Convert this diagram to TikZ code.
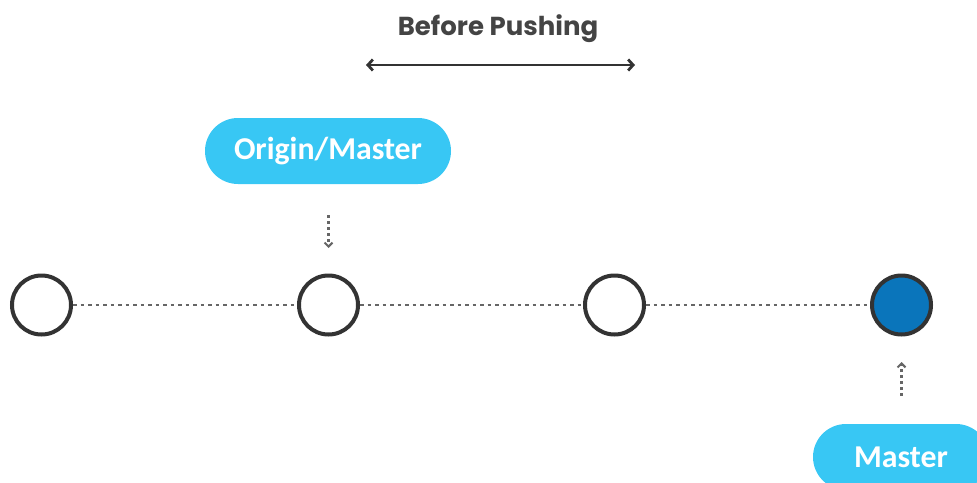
\documentclass[tikz,border=0pt]{standalone}
\usepackage{fontspec}
\setmainfont{Carlito}
\newfontfamily\titlefont{Poppins}
\usetikzlibrary{arrows.meta,shapes.misc}
\definecolor{pillblue}{HTML}{38C7F4}
\definecolor{headblue}{HTML}{0A75BB}
\definecolor{ink}{HTML}{333333}
\definecolor{titlegray}{HTML}{444444}
\definecolor{dotgray}{HTML}{666666}
\tikzset{
  commit/.style={circle, draw=ink, line width=4pt, minimum size=59pt, inner sep=0pt, fill=white},
  pill/.style={rounded rectangle, fill=pillblue, text=white, font=\bfseries\fontsize{31.8}{34}\selectfont,
               minimum height=66pt, inner sep=0pt},
  link/.style={draw=dotgray, line width=2.5pt, dash pattern=on 3.5pt off 4pt},
  pointer/.style={draw=dotgray, line width=2.5pt, dash pattern=on 3pt off 3pt,
                  -{Straight Barb[length=4pt,width=8pt,line width=2pt]}},
}
\begin{document}
\begin{tikzpicture}[x=1pt,y=-1pt]
  \useasboundingbox (0,0) rectangle (977,482);

  % heading with span arrow
  \node (title) at (498,28.5) {\titlefont\bfseries\color{titlegray}\fontsize{26}{30}\selectfont Before Pushing};
  \coordinate (spanL) at (366,65);
  \coordinate (spanR) at (635,65);
  \draw[ink, line width=2.8pt, {Straight Barb[length=5pt,width=11pt]}-{Straight Barb[length=5pt,width=11pt]}] (spanL) -- (spanR);

  % commit chain
  \node[commit] (c1) at (41.5,305) {};
  \node[commit] (c2) at (328.5,305) {};
  \node[commit] (c3) at (614.5,305) {};
  \node[commit, fill=headblue] (c4) at (901.5,305) {};
  \draw[link] (c1) -- (c2);
  \draw[link] (c2) -- (c3);
  \draw[link] (c3) -- (c4);

  % branch labels
  \node[pill, minimum width=246pt] (origin) at (328,151) {Origin/Master};
  \coordinate (oTop) at (328.5,215);
  \coordinate (oTip) at (328.5,248);
  \draw[pointer] (oTop) -- (oTip);

  \node[pill, minimum width=176pt] (master) at (901,457) {Master};
  \coordinate (mBot) at (901.5,396);
  \coordinate (mTip) at (901.5,362);
  \draw[pointer] (mBot) -- (mTip);
\end{tikzpicture}
\end{document}
